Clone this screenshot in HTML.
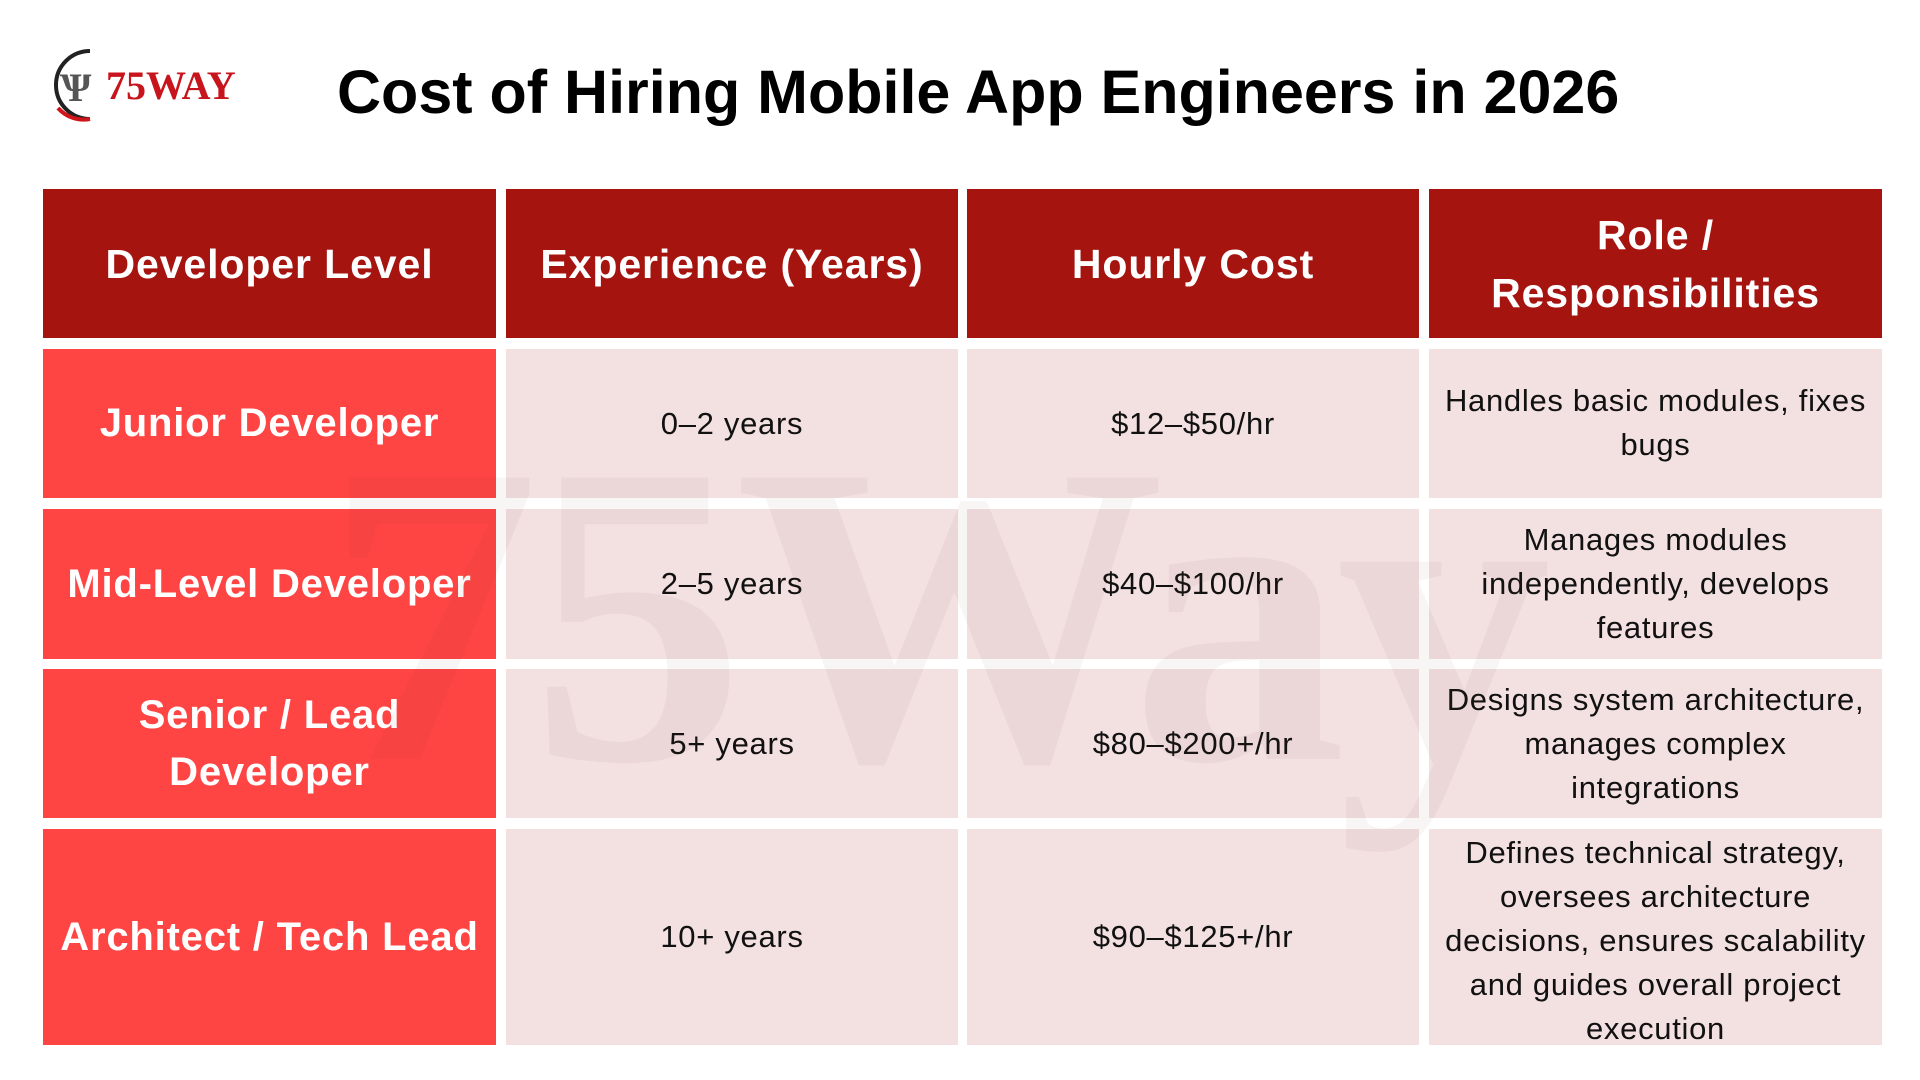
<!DOCTYPE html>
<html><head><style>
body{margin:0;width:1920px;height:1080px;background:#fff;position:relative;overflow:hidden;font-family:"Liberation Sans",sans-serif}
.t{position:absolute;left:337px;top:57px;font-weight:bold;font-size:61px;color:#000;white-space:nowrap}
.c{position:absolute;display:flex;align-items:center;justify-content:center;text-align:center;box-sizing:border-box}
.h{background:#a61410;color:#fff;font-weight:bold;font-size:41px;line-height:58px;letter-spacing:0.9px}
.f{background:#ff4444;color:#fff;font-weight:bold;font-size:40px;line-height:57px;letter-spacing:0.8px}
.b{background:#f3e0e1;color:#111;font-size:31px;line-height:44px;padding:0 8px;letter-spacing:0.7px}
.wm{position:absolute;left:325px;top:400px;font-family:"Liberation Serif",serif;font-weight:bold;font-size:430px;color:rgba(120,60,60,0.05);white-space:nowrap;line-height:1;z-index:5;pointer-events:none;letter-spacing:-10px}
</style></head><body>
<svg style="position:absolute;left:40px;top:46px" width="220" height="80">
<path d="M50 5 A34 34 0 1 0 50 73" fill="none" stroke="#222" stroke-width="4"/>
<path d="M18 62 A34 34 0 0 0 50 73" fill="none" stroke="#d0141c" stroke-width="4"/>
<text x="20" y="55" font-family="Liberation Serif" font-weight="bold" font-size="40" fill="#555">Ѱ</text>
<text x="66" y="53" font-family="Liberation Serif" font-weight="bold" font-size="40" fill="#c8141c">75WAY</text>
</svg>
<div class="t">Cost of Hiring Mobile App Engineers in 2026</div>

<div class="c h" style="left:43px;top:189px;width:453px;height:149px">Developer Level</div>
<div class="c h" style="left:506px;top:189px;width:452px;height:149px">Experience (Years)</div>
<div class="c h" style="left:967px;top:189px;width:452px;height:149px">Hourly Cost</div>
<div class="c h" style="left:1429px;top:189px;width:453px;height:149px">Role /<br>Responsibilities</div>

<div class="c f" style="left:43px;top:349px;width:453px;height:149px">Junior Developer</div>
<div class="c b" style="left:506px;top:349px;width:452px;height:149px">0–2 years</div>
<div class="c b" style="left:967px;top:349px;width:452px;height:149px">$12–$50/hr</div>
<div class="c b" style="left:1429px;top:349px;width:453px;height:149px;align-items:flex-start;padding-top:30px">Handles basic modules, fixes<br>bugs</div>

<div class="c f" style="left:43px;top:509px;width:453px;height:150px">Mid-Level Developer</div>
<div class="c b" style="left:506px;top:509px;width:452px;height:150px">2–5 years</div>
<div class="c b" style="left:967px;top:509px;width:452px;height:150px">$40–$100/hr</div>
<div class="c b" style="left:1429px;top:509px;width:453px;height:150px">Manages modules<br>independently, develops<br>features</div>

<div class="c f" style="left:43px;top:669px;width:453px;height:149px">Senior / Lead<br>Developer</div>
<div class="c b" style="left:506px;top:669px;width:452px;height:149px">5+ years</div>
<div class="c b" style="left:967px;top:669px;width:452px;height:149px">$80–$200+/hr</div>
<div class="c b" style="left:1429px;top:669px;width:453px;height:149px;padding:0 2px">Designs system architecture,<br>manages complex<br>integrations</div>

<div class="c f" style="left:43px;top:829px;width:453px;height:216px">Architect / Tech Lead</div>
<div class="c b" style="left:506px;top:829px;width:452px;height:216px">10+ years</div>
<div class="c b" style="left:967px;top:829px;width:452px;height:216px">$90–$125+/hr</div>
<div class="c b" style="left:1429px;top:829px;width:453px;height:216px;align-items:flex-start;padding:2px 2px 0">Defines technical strategy,<br>oversees architecture<br>decisions, ensures scalability<br>and guides overall project<br>execution</div>

<div class="wm">75Way</div>
</body></html>
